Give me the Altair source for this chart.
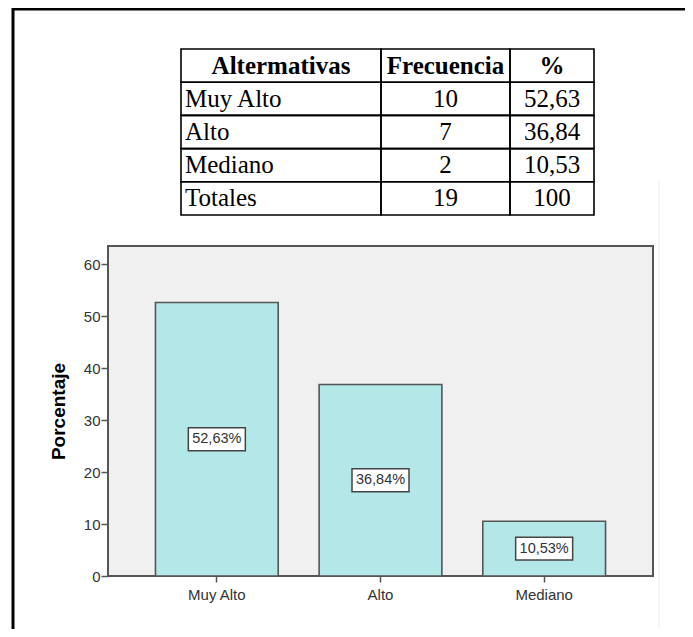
import altair as alt
import pandas as pd

# ---------------- data ----------------
categories = ["Muy Alto", "Alto", "Mediano"]
percentages = [52.63, 36.84, 10.53]
pct_labels = ["52,63%", "36,84%", "10,53%"]
y_ticks = [0, 10, 20, 30, 40, 50, 60]

table_headers = ["Altermativas", "Frecuencia", "%"]
table_alternatives = ["Muy Alto", "Alto", "Mediano", "Totales"]
table_frequencies = ["10", "7", "2", "19"]
table_percents = ["52,63", "36,84", "10,53", "100"]

# ---------------- layout / style constants (view coords, page = view + 8) ----------------
W, H = 677, 621
PLOT_X0, PLOT_X1 = 100, 645
PLOT_TOP, PLOT_BOTTOM = 238, 568
Y_MAX = 63.5
TABLE_X0 = 173
COL_EDGES = [0, 200, 329, 413]
TABLE_Y0, TABLE_Y1 = 41, 207
BOX_HALF = 2.2  # half height of label box in y units
BAR_FILL = "#b4e7e7"
EDGE = "#555555"
TXT = "#333333"
TABLE_FONT = 25

# ---------------- outer frame ----------------
one = pd.DataFrame({"k": [0]})
frame_top = alt.Chart(one).mark_rule(color="black", strokeWidth=3).encode(
    x=alt.value(5), x2=alt.value(W), y=alt.value(1), y2=alt.value(1))
frame_left = alt.Chart(one).mark_rule(color="black", strokeWidth=3).encode(
    x=alt.value(5), x2=alt.value(5), y=alt.value(0), y2=alt.value(H))
faint = alt.Chart(one).mark_rule(color="#f3f3f3", strokeWidth=1.5).encode(
    x=alt.value(651), x2=alt.value(651), y=alt.value(172), y2=alt.value(H))
plot_bg = alt.Chart(one).mark_rect(fill="#f0f0f0", stroke=EDGE, strokeWidth=2).encode(
    x=alt.value(PLOT_X0), x2=alt.value(PLOT_X1), y=alt.value(PLOT_TOP), y2=alt.value(PLOT_BOTTOM))

# ---------------- table ----------------
cells = []
for r in range(5):
    for c in range(3):
        cells.append({"row": r, "x0": COL_EDGES[c], "x1": COL_EDGES[c + 1]})
cells_df = pd.DataFrame(cells)

head_df = pd.DataFrame({
    "row": [0, 0, 0],
    "x": [(COL_EDGES[i] + COL_EDGES[i + 1]) / 2 for i in range(3)],
    "t": table_headers,
})
col0_df = pd.DataFrame({"row": [1, 2, 3, 4], "x": [4] * 4, "t": table_alternatives})
col12_df = pd.DataFrame({
    "row": [1, 2, 3, 4] * 2,
    "x": [(COL_EDGES[1] + COL_EDGES[2]) / 2] * 4 + [(COL_EDGES[2] + COL_EDGES[3]) / 2] * 4,
    "t": table_frequencies + table_percents,
})

tx_scale = alt.Scale(domain=[0, COL_EDGES[-1]], range=[TABLE_X0, TABLE_X0 + COL_EDGES[-1]])
ty_scale = alt.Scale(domain=[0, 1, 2, 3, 4], range=[TABLE_Y0, TABLE_Y1], paddingInner=0, paddingOuter=0)

cell_rects = alt.Chart(cells_df).mark_rect(filled=False, stroke="black", strokeWidth=1.6).encode(
    x=alt.X("x0:Q", scale=tx_scale, axis=None),
    x2="x1:Q",
    y=alt.Y("row:O", scale=ty_scale, axis=None),
)
head_text = alt.Chart(head_df).mark_text(
    font="Liberation Serif", fontSize=TABLE_FONT, fontWeight="bold", color="black", baseline="middle", align="center"
).encode(x=alt.X("x:Q", scale=tx_scale, axis=None), y=alt.Y("row:O", scale=ty_scale, axis=None), text="t:N")
col0_text = alt.Chart(col0_df).mark_text(
    font="Liberation Serif", fontSize=TABLE_FONT, color="black", baseline="middle", align="left"
).encode(x=alt.X("x:Q", scale=tx_scale, axis=None), y=alt.Y("row:O", scale=ty_scale, axis=None), text="t:N")
col12_text = alt.Chart(col12_df).mark_text(
    font="Liberation Serif", fontSize=TABLE_FONT, color="black", baseline="middle", align="center"
).encode(x=alt.X("x:Q", scale=tx_scale, axis=None), y=alt.Y("row:O", scale=ty_scale, axis=None), text="t:N")

table = alt.layer(cell_rects, head_text, col0_text, col12_text)

# ---------------- bar chart ----------------
bars_df = pd.DataFrame({"cat": categories, "pct": percentages, "lab": pct_labels})

x_scale = alt.Scale(domain=categories, range=[PLOT_X0, PLOT_X1], paddingInner=0.25, paddingOuter=0.29)
y_scale = alt.Scale(domain=[0, Y_MAX], range=[PLOT_BOTTOM, PLOT_TOP], nice=False, zero=True)

x_axis = alt.Axis(orient="bottom", offset=-(H - PLOT_BOTTOM), domain=False, tickSize=6, tickColor=EDGE,
                  tickWidth=1.5, labelAngle=0, labelFont="Liberation Sans", labelFontSize=15,
                  labelColor=TXT, labelPadding=5, title=None, zindex=1)
y_axis = alt.Axis(orient="left", offset=-PLOT_X0, values=y_ticks, domain=False, grid=False, tickSize=7,
                  tickColor=EDGE, tickWidth=1.5, labelFont="Liberation Sans", labelFontSize=15,
                  labelColor=TXT, labelPadding=1, title="Porcentaje", titleFont="Liberation Sans",
                  titleFontSize=19, titleFontWeight="bold", titleColor="black", titleAngle=270,
                  titleX=-50, titleY=(PLOT_TOP + PLOT_BOTTOM) / 2, titleAlign="center",
                  titleBaseline="middle", zindex=1)

bars = alt.Chart(bars_df).mark_bar(fill=BAR_FILL, stroke=EDGE, strokeWidth=1.6).encode(
    x=alt.X("cat:N", sort=categories, scale=x_scale, axis=x_axis),
    y=alt.Y("pct:Q", scale=y_scale, axis=y_axis),
)
boxes = alt.Chart(bars_df).transform_calculate(
    lo=f"datum.pct / 2 - {BOX_HALF}", hi=f"datum.pct / 2 + {BOX_HALF}"
).mark_bar(width=57, fill="white", stroke="#444444", strokeWidth=1.5).encode(
    x=alt.X("cat:N", sort=categories, title=None),
    y=alt.Y("lo:Q", title="Porcentaje"),
    y2="hi:Q",
)
labels = alt.Chart(bars_df).transform_calculate(mid="datum.pct / 2").mark_text(
    font="Liberation Sans", fontSize=14.5, color=TXT, baseline="middle", align="center"
).encode(
    x=alt.X("cat:N", sort=categories, title=None),
    y=alt.Y("mid:Q", title="Porcentaje"),
    text="lab:N",
)

barchart = alt.layer(bars, boxes, labels)

chart = alt.layer(
    alt.layer(frame_top, frame_left, faint, plot_bg),
    table,
    barchart,
).resolve_scale(x="independent", y="independent").properties(
    width=W, height=H, autosize=alt.AutoSizeParams(type="none"), padding=0, background="white"
).configure_view(strokeWidth=0)

chart.save("out.html", embed_options={"renderer": "svg", "actions": False})
